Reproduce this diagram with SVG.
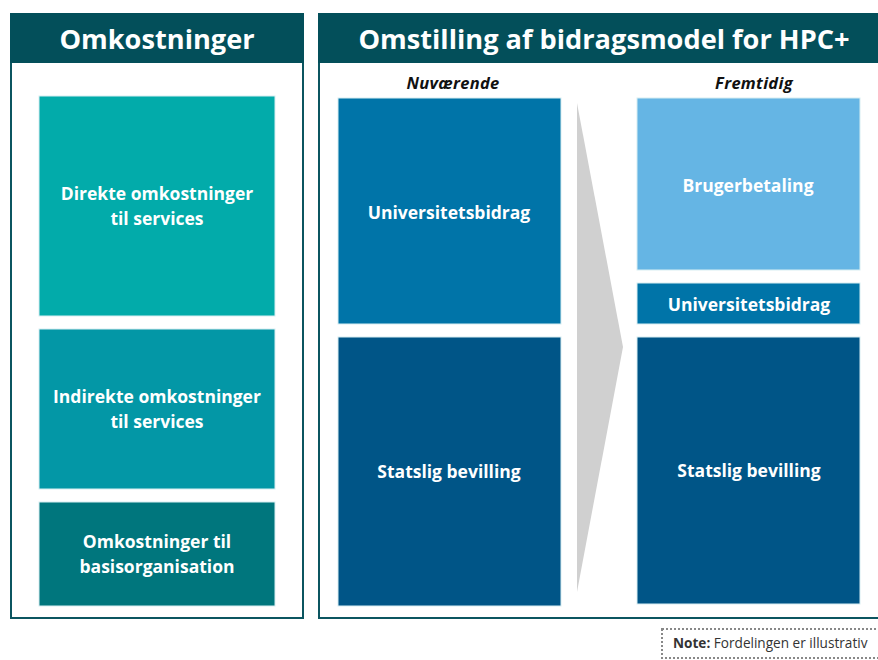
<svg xmlns="http://www.w3.org/2000/svg" width="878" height="660" viewBox="0 0 878 660">
<style>
.panel{fill:#fff;stroke:#0B5560;stroke-width:2}
.hdr{fill:#034F5A}
.title{font-family:"Open Sans",sans-serif;font-weight:700;font-size:27.2px;fill:#fff;text-anchor:middle}
.lbl{font-family:"Open Sans",sans-serif;font-weight:700;font-size:17.5px;fill:#fff;text-anchor:middle}
.sub{font-family:"Open Sans",sans-serif;font-weight:700;font-style:italic;font-size:16.5px;fill:#111;text-anchor:middle;letter-spacing:0.3px}
.box{stroke:#d8eef2;stroke-width:1}
.note{font-family:"Open Sans",sans-serif;font-size:13.6px;fill:#333}
</style>
<g id="panel-left">
<rect class="panel" x="11" y="14" width="292" height="604"/>
<rect class="hdr" x="10" y="13" width="294" height="50"/>
<text class="title" x="157" y="49">Omkostninger</text>
</g>
<g id="panel-right">
<rect class="panel" x="319" y="14" width="570" height="604"/>
<rect class="hdr" x="318" y="13" width="572" height="50"/>
<text class="title" x="604" y="49">Omstilling af bidragsmodel for HPC+</text>
<text class="sub" x="453" y="89">Nuværende</text>
<text class="sub" x="754" y="89">Fremtidig</text>
</g>
<g id="direkte">
<rect class="box" x="39" y="96" width="236" height="220" fill="#02ABAA"/>
<text class="lbl" x="157" y="200">Direkte omkostninger</text>
<text class="lbl" x="157" y="225">til services</text>
</g>
<g id="indirekte">
<rect class="box" x="39" y="329" width="236" height="160" fill="#0397A6"/>
<text class="lbl" x="157" y="403">Indirekte omkostninger</text>
<text class="lbl" x="157" y="428">til services</text>
</g>
<g id="basis">
<rect class="box" x="39" y="502" width="236" height="104" fill="#00767D"/>
<text class="lbl" x="157" y="548">Omkostninger til</text>
<text class="lbl" x="157" y="573">basisorganisation</text>
</g>
<g id="connectors">
<polygon points="577,103 623,347 577,592" fill="#D0D0D0"/>
</g>
<g id="uni-now">
<rect class="box" x="338" y="98" width="223" height="226" fill="#0074A8"/>
<text class="lbl" x="449" y="219">Universitetsbidrag</text>
</g>
<g id="stat-now">
<rect class="box" x="338" y="337" width="223" height="269" fill="#005587"/>
<text class="lbl" x="449" y="478">Statslig bevilling</text>
</g>
<g id="bruger">
<rect class="box" x="637" y="98" width="223" height="172" fill="#65B5E4"/>
<text class="lbl" x="748" y="192">Brugerbetaling</text>
</g>
<g id="uni-future">
<rect class="box" x="637" y="283" width="223" height="41" fill="#0074A8"/>
<text class="lbl" x="749" y="311">Universitetsbidrag</text>
</g>
<g id="stat-future">
<rect class="box" x="637" y="337" width="223" height="267" fill="#005587"/>
<text class="lbl" x="749" y="477">Statslig bevilling</text>
</g>
<g id="note">
<rect x="662" y="629" width="222" height="29" fill="none" stroke="#888" stroke-width="2" stroke-dasharray="2,2"/>
<text class="note" x="673" y="648"><tspan font-weight="700">Note:</tspan> Fordelingen er illustrativ</text>
</g>
</svg>
